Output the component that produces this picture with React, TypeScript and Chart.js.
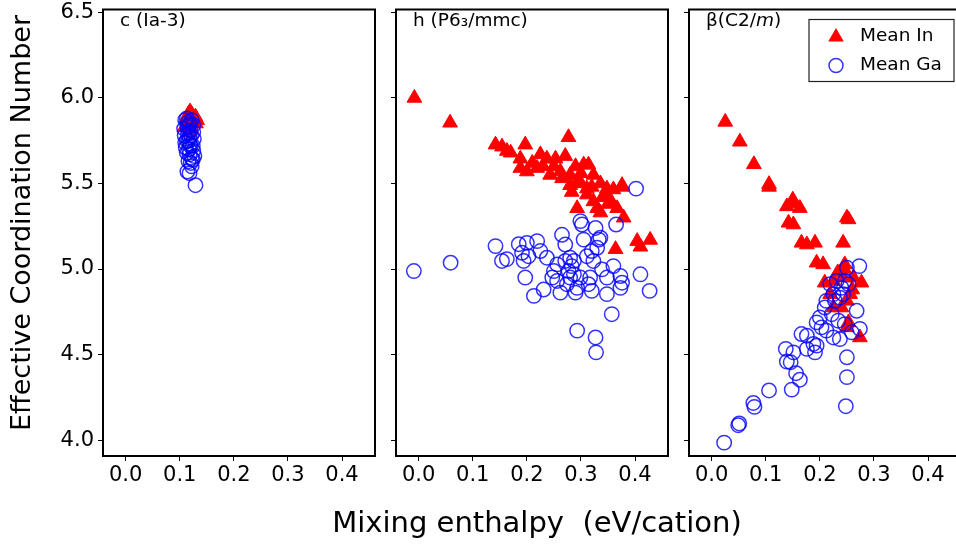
import React, { useEffect, useRef } from "react";
import { Chart, registerables } from "chart.js";

Chart.register(...registerables);

// ---------------- data ----------------
const xTicks = [0.0, 0.1, 0.2, 0.3, 0.4];
const yTicks = [4.0, 4.5, 5.0, 5.5, 6.0, 6.5];
const xRange = [-0.042, 0.461];
const yRange = [3.907, 6.517];

const seriesLabels = ["Mean In", "Mean Ga"];
const panelTitles = [
  [{ t: "c (Ia-3)" }],
  [{ t: "h (P6\u2083/mmc)" }],
  [{ t: "\u03b2(C2/" }, { t: "m", i: true }, { t: ")" }],
];

const cubicIn: [number, number][] = [
  [0.112, 5.88], [0.115, 5.9], [0.117, 5.91], [0.119, 5.92], [0.121, 5.91], [0.123, 5.9],
  [0.125, 5.89], [0.127, 5.88], [0.114, 5.87], [0.118, 5.89], [0.122, 5.88], [0.126, 5.86],
  [0.116, 5.85], [0.12, 5.87], [0.124, 5.86], [0.113, 5.84], [0.13, 5.85], [0.119, 5.83],
  [0.121, 5.82], [0.117, 5.8], [0.132, 5.87], [0.109, 5.83], [0.129, 5.89],
];
const cubicGa: [number, number][] = [
  [0.11, 5.87], [0.113, 5.88], [0.116, 5.86], [0.119, 5.85], [0.122, 5.87], [0.125, 5.84],
  [0.108, 5.82], [0.114, 5.83], [0.117, 5.84], [0.12, 5.81], [0.125, 5.8], [0.109, 5.78],
  [0.115, 5.79], [0.118, 5.77], [0.121, 5.78], [0.126, 5.76], [0.11, 5.74], [0.116, 5.75],
  [0.119, 5.73], [0.124, 5.72], [0.111, 5.71], [0.117, 5.7], [0.12, 5.72], [0.125, 5.69],
  [0.113, 5.68], [0.118, 5.67], [0.122, 5.65], [0.116, 5.63], [0.12, 5.62], [0.124, 5.64],
  [0.114, 5.57], [0.118, 5.56], [0.122, 5.6], [0.129, 5.49], [0.127, 5.66], [0.113, 5.75],
  [0.117, 5.8],
];

const hexIn: [number, number][] = [
  [-0.008, 6.0], [0.058, 5.855], [0.142, 5.727], [0.154, 5.715], [0.163, 5.69], [0.197, 5.727],
  [0.277, 5.77], [0.188, 5.645], [0.225, 5.67], [0.237, 5.645], [0.253, 5.645], [0.271, 5.66],
  [0.305, 5.61], [0.314, 5.61], [0.323, 5.55], [0.188, 5.59], [0.2, 5.57], [0.219, 5.59],
  [0.243, 5.55], [0.262, 5.57], [0.28, 5.55], [0.293, 5.51], [0.336, 5.5], [0.348, 5.47],
  [0.36, 5.465], [0.376, 5.49], [0.283, 5.45], [0.311, 5.435], [0.28, 5.49], [0.311, 5.47],
  [0.293, 5.355], [0.33, 5.355], [0.336, 5.33], [0.367, 5.355], [0.379, 5.3], [0.323, 5.395],
  [0.364, 5.116], [0.404, 5.163], [0.428, 5.17], [0.41, 5.13], [0.376, 5.48], [0.21, 5.62],
  [0.23, 5.6], [0.25, 5.6], [0.265, 5.53], [0.3, 5.56], [0.29, 5.6], [0.32, 5.48],
  [0.34, 5.42], [0.355, 5.4], [0.345, 5.44], [0.3, 5.5], [0.17, 5.68], [0.35, 5.38],
];
const hexGa: [number, number][] = [
  [-0.009, 4.988], [0.059, 5.037], [0.142, 5.134], [0.154, 5.047], [0.163, 5.058], [0.185, 5.145],
  [0.191, 5.095], [0.2, 5.153], [0.203, 5.075], [0.194, 5.047], [0.219, 5.163], [0.225, 5.105],
  [0.237, 5.066], [0.197, 4.95], [0.231, 4.88], [0.213, 4.843], [0.262, 4.862], [0.265, 5.2],
  [0.271, 5.143], [0.25, 4.988], [0.247, 4.95], [0.256, 4.93], [0.28, 5.066], [0.283, 5.017],
  [0.277, 4.988], [0.287, 4.969], [0.274, 4.911], [0.293, 4.89], [0.29, 4.862], [0.299, 4.95],
  [0.305, 5.172], [0.311, 5.075], [0.32, 5.105], [0.323, 5.047], [0.33, 5.124], [0.333, 5.172],
  [0.327, 5.24], [0.299, 5.28], [0.302, 5.26], [0.317, 4.95], [0.314, 4.911], [0.32, 4.872],
  [0.339, 4.998], [0.348, 4.95], [0.348, 4.853], [0.36, 5.017], [0.373, 4.959], [0.376, 4.92],
  [0.373, 4.89], [0.41, 4.969], [0.427, 4.872], [0.357, 4.736], [0.293, 4.64], [0.327, 4.6],
  [0.328, 4.513], [0.365, 5.26], [0.402, 5.47], [0.336, 5.183], [0.287, 5.047], [0.28, 4.95],
  [0.271, 5.047], [0.256, 5.027],
];

const betaIn: [number, number][] = [
  [0.025, 5.86], [0.052, 5.744], [0.078, 5.612], [0.106, 5.496], [0.15, 5.405], [0.106, 5.48],
  [0.139, 5.366], [0.151, 5.385], [0.163, 5.356], [0.142, 5.27], [0.151, 5.26], [0.166, 5.153],
  [0.176, 5.143], [0.191, 5.153], [0.194, 5.037], [0.206, 5.027], [0.25, 5.3], [0.253, 5.29],
  [0.243, 5.153], [0.246, 5.027], [0.209, 4.92], [0.225, 4.93], [0.262, 4.95], [0.277, 4.92],
  [0.243, 4.95], [0.256, 4.853], [0.25, 4.814], [0.24, 4.775], [0.253, 4.688], [0.25, 4.659],
  [0.274, 4.6], [0.225, 4.775], [0.219, 4.853], [0.233, 4.98], [0.26, 4.88], [0.245, 5.0],
];
const betaGa: [number, number][] = [
  [0.023, 3.985], [0.049, 4.087], [0.051, 4.097], [0.079, 4.194], [0.077, 4.217], [0.106, 4.29],
  [0.148, 4.295], [0.163, 4.353], [0.156, 4.391], [0.139, 4.459], [0.146, 4.455], [0.137, 4.533],
  [0.151, 4.513], [0.176, 4.533], [0.191, 4.513], [0.194, 4.552], [0.166, 4.62], [0.176, 4.61],
  [0.194, 4.688], [0.203, 4.659], [0.2, 4.717], [0.209, 4.775], [0.212, 4.814], [0.225, 4.853],
  [0.219, 4.911], [0.231, 4.93], [0.24, 4.89], [0.25, 5.007], [0.273, 5.017], [0.268, 4.756],
  [0.274, 4.65], [0.25, 4.484], [0.25, 4.368], [0.248, 4.198], [0.225, 4.6], [0.237, 4.59],
  [0.246, 4.678], [0.212, 4.64], [0.222, 4.736], [0.234, 4.698], [0.243, 4.853], [0.237, 4.833],
  [0.246, 4.93], [0.253, 4.911], [0.228, 4.814], [0.188, 4.562], [0.259, 4.63],
];

const panelData = [
  [cubicIn, cubicGa],
  [hexIn, hexGa],
  [betaIn, betaGa],
];

// ---------------- layout ----------------
const CW = 1000;
const CH = 547;
const PLOT_TOP = 7;
const PLOT_BOTTOM = 456;
const PLOT_W = 272;
const plotLefts = [103, 396, 689];
const YW = 60;
const FONT = '"DejaVu Sans", sans-serif';
const RED = "#ff0000";
const BLUE = "rgba(0,0,255,0.8)";

function drawTriangle(ctx: CanvasRenderingContext2D, x: number, y: number, r: number) {
  const a = (2 * Math.PI) / 3;
  ctx.beginPath();
  ctx.moveTo(x, y - r);
  ctx.lineTo(x + Math.sin(a) * r, y - Math.cos(a) * r);
  ctx.lineTo(x + Math.sin(2 * a) * r, y - Math.cos(2 * a) * r);
  ctx.closePath();
  ctx.fill();
}

function makeChart(canvas: HTMLCanvasElement, idx: number) {
  const left = plotLefts[idx];
  const right = left + PLOT_W;
  const [inPts, gaPts] = panelData[idx];

  const framePlugin = {
    id: "frame" + idx,
    afterDraw(chart: any) {
      const { ctx, chartArea: ca } = chart;
      ctx.save();
      ctx.strokeStyle = "#000";
      ctx.lineWidth = 2;
      ctx.strokeRect(ca.left, ca.top, ca.right - ca.left, ca.bottom - ca.top);
      // panel title
      let x = ca.left + 17;
      ctx.fillStyle = "#000";
      ctx.textBaseline = "alphabetic";
      ctx.textAlign = "left";
      for (const seg of panelTitles[idx] as any[]) {
        ctx.font = (seg.i ? "italic " : "") + "18.5px " + FONT;
        ctx.fillText(seg.t, x, 26);
        x += ctx.measureText(seg.t).width;
      }
      if (idx === 0) {
        ctx.font = "27px " + FONT;
        ctx.save();
        ctx.translate(23, 223);
        ctx.rotate(-Math.PI / 2);
        ctx.textAlign = "center";
        ctx.textBaseline = "middle";
        ctx.fillText("Effective Coordination Number", 0, 0);
        ctx.restore();
        ctx.font = "29px " + FONT;
        ctx.textAlign = "center";
        ctx.textBaseline = "alphabetic";
        ctx.fillText("Mixing enthalpy  (eV/cation)", 537, 532);
      }
      if (idx === 2) {
        const bw = 145;
        const bh = 62;
        const bx = ca.right - 7 - bw;
        const by = ca.top + 10;
        ctx.fillStyle = "#fff";
        ctx.fillRect(bx, by, bw, bh);
        ctx.strokeStyle = "#222";
        ctx.lineWidth = 1.2;
        ctx.strokeRect(bx, by, bw, bh);
        ctx.fillStyle = RED;
        drawTriangle(ctx, bx + 27, by + 17.5, 9);
        ctx.strokeStyle = BLUE;
        ctx.lineWidth = 1.5;
        ctx.beginPath();
        ctx.arc(bx + 27, by + 46, 7, 0, Math.PI * 2);
        ctx.stroke();
        ctx.fillStyle = "#000";
        ctx.font = "18.5px " + FONT;
        ctx.textAlign = "left";
        ctx.textBaseline = "middle";
        ctx.fillText(seriesLabels[0], bx + 51, by + 16.5);
        ctx.fillText(seriesLabels[1], bx + 51, by + 46);
      }
      ctx.restore();
    },
  };

  return new Chart(canvas, {
    type: "scatter",
    data: {
      datasets: [
        {
          label: seriesLabels[0],
          data: inPts.map(([x, y]) => ({ x, y })),
          pointStyle: "triangle",
          pointRadius: 8.5,
          backgroundColor: RED,
          borderColor: RED,
          borderWidth: 1,
          order: 2,
        },
        {
          label: seriesLabels[1],
          data: gaPts.map(([x, y]) => ({ x, y })),
          pointStyle: "circle",
          pointRadius: 7.2,
          backgroundColor: "rgba(0,0,0,0)",
          borderColor: BLUE,
          borderWidth: 1.5,
          order: 1,
        },
      ],
    },
    options: {
      responsive: false,
      animation: false,
      devicePixelRatio: 1,
      events: [],
      layout: { padding: { left: left - YW, right: CW - right, top: PLOT_TOP, bottom: 0 } },
      plugins: { legend: { display: false }, tooltip: { enabled: false }, title: { display: false } },
      scales: {
        x: {
          type: "linear",
          min: xRange[0],
          max: xRange[1],
          afterBuildTicks: (s: any) => {
            s.ticks = xTicks.map((v) => ({ value: v }));
          },
          afterFit: (s: any) => {
            s.height = CH - PLOT_BOTTOM;
            s.paddingLeft = 0;
            s.paddingRight = 0;
          },
          grid: { drawOnChartArea: false, drawTicks: true, tickLength: 5, color: "#000", lineWidth: 1 },
          border: { display: false },
          ticks: {
            color: "#000",
            font: { family: FONT, size: 21 },
            padding: 2,
            maxRotation: 0,
            autoSkip: false,
            callback: (v: any) => Number(v).toFixed(1),
          },
        },
        y: {
          type: "linear",
          min: yRange[0],
          max: yRange[1],
          afterBuildTicks: (s: any) => {
            s.ticks = yTicks.map((v) => ({ value: v }));
          },
          afterFit: (s: any) => {
            s.width = YW;
            s.paddingTop = 0;
            s.paddingBottom = 0;
          },
          grid: { drawOnChartArea: false, drawTicks: true, tickLength: 5, color: "#000", lineWidth: 1 },
          border: { display: false },
          ticks: {
            display: idx === 0,
            color: "#000",
            font: { family: FONT, size: 21 },
            padding: 4,
            autoSkip: false,
            callback: (v: any) => Number(v).toFixed(1),
          },
        },
      },
    } as any,
    plugins: [framePlugin],
  });
}

function Panel({ idx }: { idx: number }) {
  const ref = useRef<HTMLCanvasElement>(null);
  useEffect(() => {
    if (!ref.current) return;
    const chart = makeChart(ref.current, idx);
    return () => chart.destroy();
  }, [idx]);
  return (
    <canvas
      ref={ref}
      width={CW}
      height={CH}
      style={{ position: "absolute", left: 0, top: 0, width: CW, height: CH }}
    />
  );
}

export default function App() {
  return (
    <div
      style={{
        position: "fixed",
        left: 0,
        top: 0,
        width: 956,
        height: 547,
        overflow: "hidden",
        background: "#fff",
      }}
    >
      <Panel idx={0} />
      <Panel idx={1} />
      <Panel idx={2} />
    </div>
  );
}
